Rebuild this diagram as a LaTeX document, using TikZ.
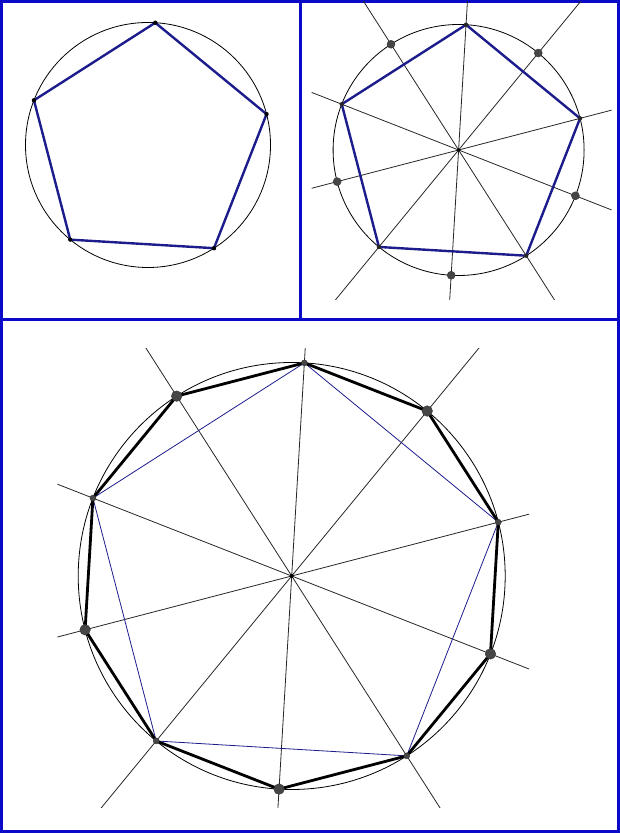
\documentclass[tikz,border=0pt]{standalone}
\usepackage{xcolor}
\usetikzlibrary{calc}
\definecolor{frameblue}{RGB}{10,10,200}
\definecolor{penblue}{RGB}{28,28,140}
\definecolor{dotgray}{RGB}{70,70,70}
\tikzset{
  frame/.style={draw=frameblue, line width=3pt},
  circ/.style={draw=black, line width=0.8pt},
  axisline/.style={draw=black!85, line width=0.8pt},
  penta/.style={draw=penblue, line width=2.4pt, line join=round},
  thinpenta/.style={draw=penblue, line width=0.8pt},
  deca/.style={draw=black, line width=2.8pt, line join=round},
}
\begin{document}
\begin{tikzpicture}[x=1pt, y=1pt]
    \useasboundingbox (0,0) rectangle (620,833);
    \def\ang{86.6}

    % frames
    \draw[frame] (1.5,1.5) rectangle (618.5,831.5);
    \draw[frame] (1.5,513) -- (618.5,513);
    \draw[frame] (300,513) -- (300,831.5);

    % top left: pentagon in circle
    \begin{scope}[shift={(148,688)}]
      \def\r{122.5}
      \draw[circ] (0,0) circle (\r);
      \foreach \i in {0,...,4} \coordinate (a\i) at (\ang+72*\i:\r);
      \draw[penta] (a0) -- (a1) -- (a2) -- (a3) -- (a4) -- cycle;
      \foreach \i in {0,...,4} \fill[black] (a\i) circle (2.2);
    \end{scope}

    % top right: pentagon with the diameters
    \begin{scope}
      \clip (311.7,533) rectangle (611.7,831.5);
      \begin{scope}[shift={(458.6,683)}]
        \foreach \i in {0,...,4} \draw[axisline] (\ang+72*\i:300) -- (\ang+72*\i+180:300);
      \end{scope}
    \end{scope}
    \begin{scope}[shift={(458.6,683)}]
      \def\r{125.5}
      \coordinate (bc) at (0,0);
      \draw[circ] (bc) circle (\r);
      \foreach \i in {0,...,4} {
        \coordinate (b\i) at (\ang+72*\i:\r);
        \coordinate (bm\i) at (\ang+36+72*\i:\r);
      }
      \draw[penta] (b0) -- (b1) -- (b2) -- (b3) -- (b4) -- cycle;
      \foreach \i in {0,...,4} {
        \fill[black!85] (b\i) circle (2.2);
        \fill[dotgray, draw=black!80, line width=0.4pt] (bm\i) circle (4);
      }
      \fill[black] (bc) circle (1.8);
    \end{scope}

    % bottom: decagon from the pentagon
    \begin{scope}
      \clip (57.3,25) rectangle (529,484.7);
      \begin{scope}[shift={(291.7,257)}]
        \foreach \i in {0,...,4} \draw[axisline] (\ang+72*\i:400) -- (\ang+72*\i+180:400);
      \end{scope}
    \end{scope}
    \begin{scope}[shift={(291.7,257)}]
      \def\r{213.5}
      \coordinate (cc) at (0,0);
      \draw[circ] (cc) circle (\r);
      \foreach \i in {0,...,9} \coordinate (c\i) at (\ang+36*\i:\r);
      \draw[thinpenta] (c0) -- (c2) -- (c4) -- (c6) -- (c8) -- cycle;
      \draw[deca] (c0) -- (c1) -- (c2) -- (c3) -- (c4) -- (c5) -- (c6) -- (c7) -- (c8) -- (c9) -- cycle;
      \foreach \i in {0,2,...,8} \fill[dotgray, draw=black!80, line width=0.4pt] (c\i) circle (3);
      \foreach \i in {1,3,...,9} \fill[dotgray, draw=black!80, line width=0.4pt] (c\i) circle (5.3);
      \fill[black] (cc) circle (2);
    \end{scope}
\end{tikzpicture}
\end{document}
